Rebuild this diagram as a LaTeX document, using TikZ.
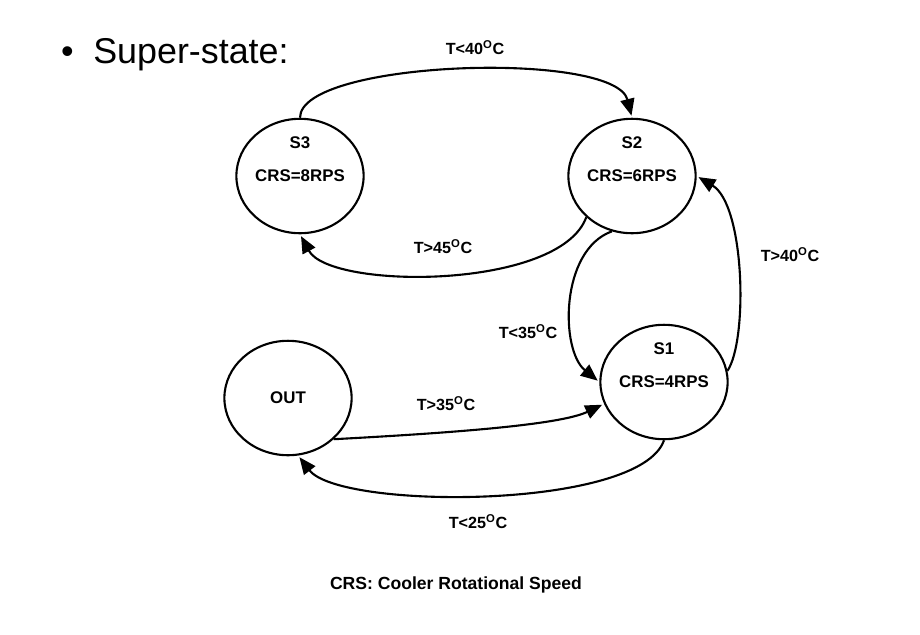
\documentclass[tikz,border=0pt]{standalone}
\usepackage{fontspec}
\setmainfont{Liberation Sans}
\usetikzlibrary{arrows.meta,shapes.geometric,positioning}

\begin{document}
\begin{tikzpicture}[x=0.025cm,y=-0.025cm,line width=1.5pt,
                    >={Triangle[length=12pt,width=10pt]},
                    state node/.style={ellipse,draw,minimum width=3.18cm,minimum height=2.86cm,inner sep=0pt,
                                       font=\fontsize{12}{14}\selectfont\bfseries},
                    name node/.style={font=\fontsize{12}{14}\selectfont\bfseries},
                    cond node/.style={font=\fontsize{11.5}{14}\selectfont\bfseries}]
  \useasboundingbox (0,0) rectangle (920,634);

  %title%
  \node[anchor=base west,inner sep=0pt,font=\fontsize{25.5}{30}\selectfont] (title) at (60,63) {\textbullet\hspace{14pt}Super-state:};

  %states%
  \node[state node] (s3) at (300,176) {CRS=8RPS};
  \node[state node] (s2) at (632,176) {CRS=6RPS};
  \node[state node] (s1) at (664,382) {CRS=4RPS};
  \node[state node] (o) at (288,398) {OUT};
  \node[name node] (n3) at (300,143) {S3};
  \node[name node] (n2) at (632,143) {S2};
  \node[name node] (n1) at (664,349) {S1};

  %transitions%
  \draw[->,shorten >=1.5pt] (s3.north) .. controls (300,60) and (615,50) .. (s2.north);
  \draw[->,shorten >=1.5pt] (s2.south west) .. controls (560,290) and (330,290) .. (s3.south);
  \draw[->,shorten >=1.5pt] (s2.250) .. controls (560,250) and (560,350) .. (s1.west);
  \draw[->,shorten >=1.5pt] (s1.10) .. controls (748,340) and (745,205) .. (s2.east);
  \draw[->,shorten >=1.5pt] (o.south east) .. controls (450,433) and (560,425) .. (s1.200);
  \draw[->,shorten >=1.5pt] (s1.south) .. controls (640,510) and (340,510) .. (o.280);

  %conditions%
  \node[cond node] (c1) at (475,48) {T<40\textsuperscript{O}C};
  \node[cond node] (c2) at (443,247) {T>45\textsuperscript{O}C};
  \node[cond node] (c3) at (790,255) {T>40\textsuperscript{O}C};
  \node[cond node] (c4) at (528,332) {T<35\textsuperscript{O}C};
  \node[cond node] (c5) at (446,404) {T>35\textsuperscript{O}C};
  \node[cond node] (c6) at (478,522) {T<25\textsuperscript{O}C};

  \node[font=\fontsize{12.5}{15}\selectfont\bfseries] (legend) at (456,585) {CRS: Cooler Rotational Speed};
\end{tikzpicture}
\end{document}
